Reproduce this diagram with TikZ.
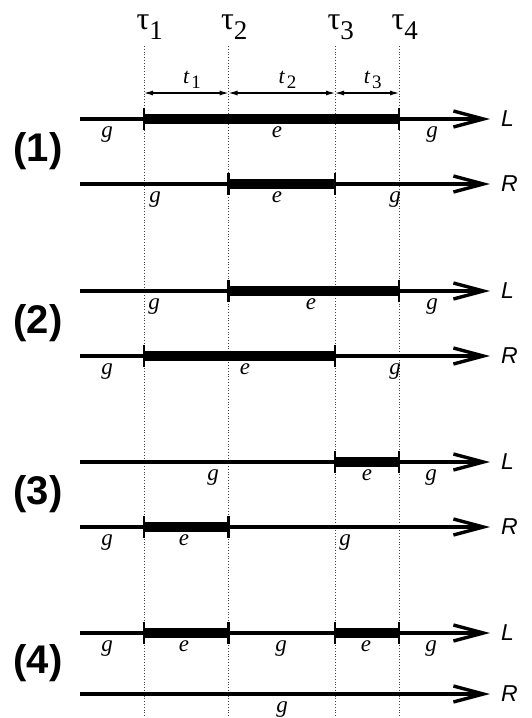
\documentclass[tikz,border=0pt]{standalone}
\usepackage{fontspec}
\setmainfont{Liberation Serif}
\setsansfont{Liberation Sans}
\usetikzlibrary{arrows.meta, calc}

\begin{document}
\begin{tikzpicture}[
    x=1pt, y=-1pt,
    every node/.style={inner sep=0pt, outer sep=0pt},
    timeline/.style={line width=3.2pt, -{Straight Barb[length=30pt, width=16pt, line width=3.4pt]}},
    ebar/.style={line width=9.5pt},
    endtick/.style={line width=2.6pt},
    guide/.style={line width=0.8pt, dotted, guidecolor},
    dimline/.style={line width=1.1pt, {Latex[length=9pt, width=5pt]}-{Latex[length=9pt, width=5pt]}},
    statelbl/.style={font=\fontsize{23}{23}\selectfont\itshape, anchor=north},
    sidelbl/.style={font=\sffamily\itshape\fontsize{23}{23}\selectfont, anchor=west},
    caselbl/.style={font=\sffamily\bfseries\fontsize{40}{40}\selectfont},
    taulbl/.style={font=\fontsize{32}{32}\selectfont, anchor=base},
    taunum/.style={font=\fontsize{27}{27}\selectfont, anchor=base west},
    spanlbl/.style={font=\itshape\fontsize{22}{22}\selectfont, anchor=base},
    spannum/.style={font=\fontsize{19}{19}\selectfont, anchor=base west},
]

% ---------------------------------------------------------------- colours
\definecolor{guidecolor}{HTML}{444444}   % the dotted time marks

% ================================================================
% One pair of time lines (L above, R below) for each case.
%   time lines   x = 80 .. 490
%   tau marks    x = 144, 228.5, 335, 399
% ================================================================

\def\xs{80}
\def\xe{490}

\useasboundingbox (0,0) rectangle (531,718);

% tau marks, their dotted guides and the spans between them
\foreach \k/\x in {1/144, 2/228.5, 3/335, 4/399} {
    \coordinate (top-\k) at (\x,46);
    \coordinate (bot-\k) at (\x,718);
    \coordinate (dim-\k) at (\x,93);
    \draw[guide] (top-\k) -- (bot-\k);
    \node[taulbl] (tau\k) at ($(top-\k)+(-1,-17)$) {τ};
    \node[taunum] (tau\k-sub) at ([yshift=-10pt]tau\k.base east) {\k};
}

\foreach \a/\b in {1/2, 2/3, 3/4} {
    \draw[dimline] (dim-\a) -- (dim-\b);
    \node[spanlbl] (t\a) at ($(dim-\a)!0.5!(dim-\b)+(0,-10)$) {t};
    \node[spannum] (t\a-sub) at ([shift={(2pt,-5pt)}]t\a.base east) {\a};
}

% row / y / side
\foreach \r/\y/\s in {L1/119/L, R1/184/R, L2/291/L, R2/356/R,
                      L3/462/L, R3/527/R, L4/633/L, R4/694/R} {
    \coordinate (\r-0) at (\xs,\y);
    \foreach \k/\x in {1/144, 2/228.5, 3/335, 4/399}
        \coordinate (\r-\k) at (\x,\y);
    \coordinate (\r-5) at (\xe,\y);
    \draw[timeline] (\r-0) -- (\r-5);
    \node[sidelbl] (\r-side) at ($(\r-5)+(11,0)$) {\s};
}

% the e stretches, with a tick at each end
\foreach \r/\a/\b in {L1/1/4, R1/2/3, L2/2/4, R2/1/3,
                      L3/3/4, R3/1/2, L4/1/2, L4/3/4} {
    \draw[ebar] (\r-\a) -- (\r-\b);
    \draw[endtick] ($(\r-\a)+(0,-11)$) -- ($(\r-\a)+(0,11)$);
    \draw[endtick] ($(\r-\b)+(0,-11)$) -- ($(\r-\b)+(0,11)$);
}

% state under each stretch: row / x / state
\foreach \r/\x/\t in {%
    L1/107/g, L1/277/e, L1/432/g,
    R1/155/g, R1/277/e, R1/395/g,
    L2/154/g, L2/311/e, L2/432/g,
    R2/107/g, R2/245/e, R2/395/g,
    L3/213/g, L3/367/e, L3/431/g,
    R3/107/g, R3/184/e, R3/345/g,
    L4/107/g, L4/184/e, L4/281/g, L4/366/e, L4/431/g,
    R4/282/g%
} {
    \node[statelbl] (\r-lbl-\x) at ($(\r-0)+(\x-\xs,7.5)$) {\t};
}

% case numbers between the two lines of each pair
\foreach \n/\r/\q in {1/L1/R1, 2/L2/R2, 3/L3/R3, 4/L4/R4}
    \node[caselbl] (case\n) at ($(\r-0)!0.5!(\q-0)+(-42,0)$) {(\n)};

\end{tikzpicture}
\end{document}
